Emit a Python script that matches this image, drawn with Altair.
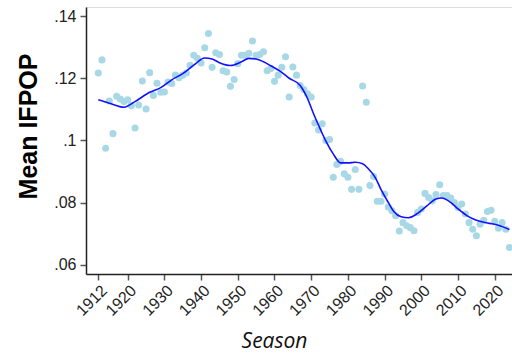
import altair as alt
import pandas as pd

years = list(range(1912, 2025))
ifpop = [
    0.1217, 0.1259, 0.0975, 0.1127, 0.1022, 0.1142, 0.1133, 0.1125, 0.1131, 0.1112,  # 1912-1921
    0.1040, 0.1114, 0.1191, 0.1101, 0.1218, 0.1145, 0.1184, 0.1155, 0.1156, 0.1188,  # 1922-1931
    0.1183, 0.1210, 0.1202, 0.1210, 0.1217, 0.1242, 0.1274, 0.1264, 0.1249, 0.1298,  # 1932-1941
    0.1344, 0.1235, 0.1282, 0.1276, 0.1224, 0.1220, 0.1174, 0.1196, 0.1247, 0.1274,  # 1942-1951
    0.1274, 0.1280, 0.1320, 0.1274, 0.1276, 0.1285, 0.1224, 0.1231, 0.1190, 0.1210,  # 1952-1961
    0.1235, 0.1269, 0.1140, 0.1236, 0.1210, 0.1177, 0.1164, 0.1150, 0.1140, 0.1056,  # 1962-1971
    0.1034, 0.1054, 0.1000, 0.1003, 0.0882, 0.0923, 0.0933, 0.0893, 0.0882, 0.0843,  # 1972-1981
    0.0907, 0.0843, 0.1175, 0.1123, 0.0855, 0.0884, 0.0805, 0.0805, 0.0828, 0.0786,  # 1982-1991
    0.0774, 0.0758, 0.0709, 0.0736, 0.0726, 0.0720, 0.0710, 0.0769, 0.0780, 0.0830,  # 1992-2001
    0.0817, 0.0806, 0.0826, 0.0858, 0.0823, 0.0823, 0.0815, 0.0801, 0.0785, 0.0796,  # 2002-2011
    0.0764, 0.0736, 0.0715, 0.0694, 0.0731, 0.0744, 0.0772, 0.0776, 0.0740, 0.0718,  # 2012-2021
    0.0736, 0.0715, 0.0656,                                                          # 2022-2024
]

fit_years = [1912, 1915, 1919, 1922, 1926, 1929, 1932, 1935, 1938, 1941, 1943, 1945,
             1948, 1951, 1953, 1955, 1957, 1959, 1961.5, 1964, 1967, 1969, 1970.5,
             1972.5, 1974, 1976, 1978, 1980, 1982, 1984, 1985.5, 1987.5, 1989, 1991,
             1992.5, 1994.5, 1996.5, 1999, 2001.5, 2004, 2005.5, 2008, 2010, 2012.5,
             2015, 2018, 2021, 2024]
fit_values = [0.1131, 0.1120, 0.1107, 0.1125, 0.1155, 0.1170, 0.1195, 0.1215, 0.1242,
              0.1265, 0.1262, 0.1250, 0.1241, 0.1253, 0.1264, 0.1262, 0.1253, 0.1240,
              0.1223, 0.1200, 0.1177, 0.1135, 0.1090, 0.1036, 0.0998, 0.0957, 0.0928,
              0.0928, 0.0930, 0.0925, 0.0910, 0.0880, 0.0843, 0.0801, 0.0772, 0.0755,
              0.0752, 0.0766, 0.0790, 0.0812, 0.0815, 0.0801, 0.0780, 0.0758, 0.0744,
              0.0735, 0.0728, 0.0714]

x_ticks = [1912, 1920, 1930, 1940, 1950, 1960, 1970, 1980, 1990, 2000, 2010, 2020]
y_ticks = [0.06, 0.08, 0.10, 0.12, 0.14]

pts = pd.DataFrame({"Season": years, "IFPOP": ifpop})
fit = pd.DataFrame({"Season": fit_years, "Fit": fit_values})

x_scale = alt.Scale(domain=[1908.65, 2024.7], nice=False, zero=False)
y_scale = alt.Scale(domain=[0.0571, 0.1429], nice=False, zero=False)

x_axis = alt.Axis(
    values=x_ticks, format="d", labelAngle=-45, labelFont="Liberation Sans",
    labelFontSize=16, labelColor="#222", tickColor="#555", tickSize=6, tickWidth=1.5,
    domainColor="#222", domainWidth=1.5, grid=False, labelPadding=2,
    labelOverlap=False, labelBound=False, labelFlush=False,
    title="Season", titleFont="Open Sans", titleFontStyle="italic",
    titleFontWeight="normal", titleFontSize=21, titleColor="#111",
    titleX=188, titleY=73, titleBaseline="alphabetic", titleAnchor="middle", titleAlign="center",
)
y_axis = alt.Axis(
    values=y_ticks, labelExpr="substring(format(datum.value, '.2~f'), 1)",
    labelFont="Liberation Sans", labelFontSize=16, labelColor="#222",
    tickColor="#555", tickSize=6, tickWidth=1.5, domainColor="#222", domainWidth=1.5,
    grid=False, labelPadding=4, labelOverlap=False,
    title="Mean IFPOP", titleFont="Liberation Sans", titleFontWeight="bold",
    titleFontSize=25, titleColor="#000", titleX=-50, titleY=119,
    titleBaseline="alphabetic", titleAlign="center", titleAngle=-90,
)

points = alt.Chart(pts).mark_circle(size=50, color="#a8d8e6", opacity=1).encode(
    x=alt.X("Season:Q", scale=x_scale, axis=x_axis),
    y=alt.Y("IFPOP:Q", scale=y_scale, axis=y_axis),
)
line = alt.Chart(fit).mark_line(color="#1010ff", strokeWidth=1.6, interpolate="monotone").encode(
    x=alt.X("Season:Q", scale=x_scale, axis=x_axis),
    y=alt.Y("Fit:Q", scale=y_scale, axis=y_axis),
)

chart = alt.layer(points, line).properties(
    width=426, height=267,
    autosize=alt.AutoSizeParams(type="none"),
    padding={"left": 86, "top": 7, "right": 0, "bottom": 84},
).configure_view(stroke=None).configure(background="white").configure_axis(
    labelOverlap=False
)

chart.save("out.html", embed_options={"renderer": "svg", "actions": False})
